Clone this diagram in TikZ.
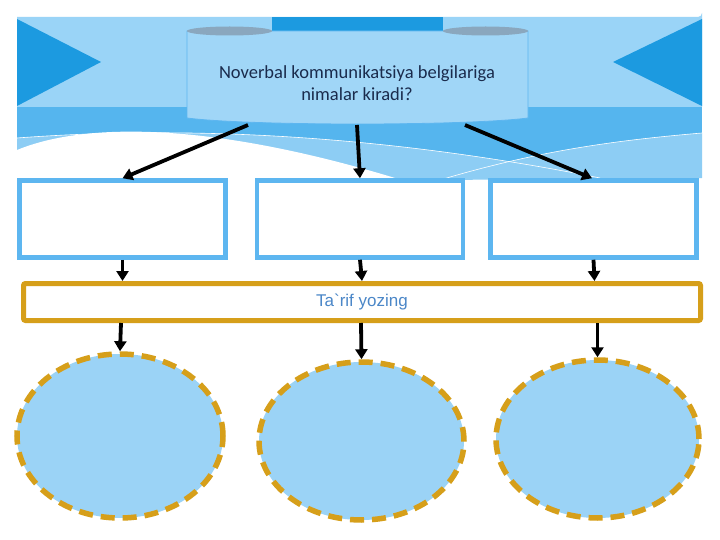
\documentclass[tikz,border=0pt]{standalone}
\usepackage{fontspec}
\newfontfamily\carl{Carlito}
\newfontfamily\libs{Liberation Sans}
\usetikzlibrary{arrows.meta,shapes.geometric}
\definecolor{bandlight}{HTML}{9AD4F7}
\definecolor{banddark}{HTML}{1C9AE0}
\definecolor{bandmid}{HTML}{55B5EE}
\definecolor{bandsoft}{HTML}{8DCDF4}
\definecolor{capgrey}{HTML}{8AA7BE}
\definecolor{scrollfill}{HTML}{A0D6F7}
\definecolor{boxblue}{HTML}{5DB6F0}
\definecolor{gold}{HTML}{D69F1A}
\definecolor{ellfill}{HTML}{9BD3F6}
\definecolor{navy}{HTML}{1A2B4C}
\definecolor{tblue}{HTML}{4B87C8}
\begin{document}
\begin{tikzpicture}[x=1pt,y=-1pt,
  arr/.style={line width=3.8pt,-{Triangle[length=10pt,width=12pt]}},
  topbox/.style={draw=boxblue,line width=4.5pt,fill=white,minimum width=206pt,minimum height=77pt,inner sep=0pt},
  goldbox/.style={draw=gold,line width=5pt,fill=white,minimum width=677pt,minimum height=37pt,inner sep=0pt,rounded corners=2pt},
  oval/.style={ellipse,fill=ellfill,draw=gold,line width=5.5pt,dash pattern=on 14pt off 8pt,inner sep=0pt}]
\useasboundingbox (0,0) rectangle (720,540);
\fill[white] (0,0) rectangle (720,540);
% background banner
\fill[bandmid] (17,107) rectangle (702,178);
\fill[bandsoft] (17,138) .. controls (150,128) and (350,128) .. (600,178) -- (17,178) -- cycle;
\fill[bandsoft] (440,180) .. controls (540,150) and (620,140) .. (702,133) -- (702,178) -- cycle;
\draw[white,line width=0.6pt] (17,138) .. controls (150,128) and (350,128) .. (600,178);
\draw[white,line width=0.6pt] (440,180) .. controls (540,150) and (620,140) .. (702,133);
\fill[white] (17,150) .. controls (90,120) and (220,125) .. (395,178) -- (17,178) -- cycle;
\fill[bandlight] (17,17) -- (698,17) arc[start angle=90,end angle=0,radius=4] -- (702,107) -- (17,107) -- cycle;
\fill[banddark] (17,19) -- (101,62) -- (17,106) -- cycle;
\fill[banddark] (702,19) -- (613,62) -- (702,106) -- cycle;
\fill[banddark] (272,17) rectangle (443,35);
% scroll
\filldraw[fill=scrollfill,draw=boxblue,line width=0.8pt] (187,31) -- (187,118) .. controls (250,126) and (465,126) .. (528,118) -- (528,31) -- cycle;
\fill[capgrey] (229.5,31) ellipse [x radius=42.5,y radius=4.5];
\fill[capgrey] (485.5,31) ellipse [x radius=42.5,y radius=4.5];
\node[font=\carl\fontsize{18.5}{22.5}\selectfont,text=navy,align=center] (q) at (357,83) {Noverbal kommunikatsiya belgilariga\\nimalar kiradi?};
\coordinate (s1) at (248,125);
\coordinate (s2) at (357,125);
\coordinate (s3) at (465,125);
% boxes
\node[topbox] (b1) at (122.5,219) {};
\node[topbox] (b2) at (360,219) {};
\node[topbox] (b3) at (593.5,219) {};
\node[goldbox,font=\libs\fontsize{17}{20}\selectfont,text=tblue] (g) at (362,302) {Ta`rif yozing};
% ellipses
\node[oval,minimum width=206pt,minimum height=164pt] (e1) at (120,436) {};
\node[oval,minimum width=205pt,minimum height=158pt] (e2) at (361.5,441) {};
\node[oval,minimum width=203pt,minimum height=158pt] (e3) at (597.5,439) {};
% arrows
\draw[arr] (s1) -- (b1.north);
\draw[arr] (s2) -- (b2.north);
\draw[arr] (s3) -- ([xshift=-1.5pt]b3.north);
\draw[arr] (b1.south) -- (b1.south |- g.north);
\draw[arr] (b2.south) -- ([xshift=2pt]b2.south |- g.north);
\draw[arr] (b3.south) -- ([xshift=1pt]b3.south |- g.north);
\draw[arr] ([xshift=1pt]e1.north |- g.south) -- (e1.north);
\draw[arr] ([xshift=-0.5pt]e2.north |- g.south) -- (e2.north);
\draw[arr] (e3.north |- g.south) -- (e3.north);
\end{tikzpicture}
\end{document}
